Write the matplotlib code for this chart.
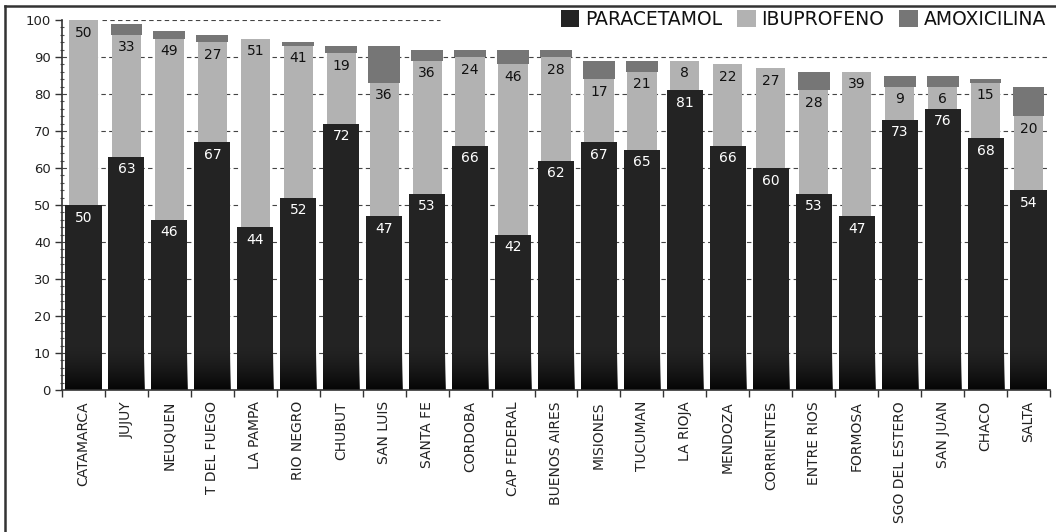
import matplotlib
matplotlib.use("Agg")
import matplotlib.pyplot as plt
import numpy as np
from matplotlib.lines import Line2D
from matplotlib.ticker import MultipleLocator, FixedLocator

provincias = ["CATAMARCA", "JUJUY", "NEUQUEN", "T DEL FUEGO", "LA PAMPA",
              "RIO NEGRO", "CHUBUT", "SAN LUIS", "SANTA FE", "CORDOBA",
              "CAP FEDERAL", "BUENOS AIRES", "MISIONES", "TUCUMAN", "LA RIOJA",
              "MENDOZA", "CORRIENTES", "ENTRE RIOS", "FORMOSA", "SGO DEL ESTERO",
              "SAN JUAN", "CHACO", "SALTA"]
paracetamol = [50, 63, 46, 67, 44, 52, 72, 47, 53, 66, 42, 62, 67, 65, 81,
               66, 60, 53, 47, 73, 76, 68, 54]
ibuprofeno = [50, 33, 49, 27, 51, 41, 19, 36, 36, 24, 46, 28, 17, 21, 8,
              22, 27, 28, 39, 9, 6, 15, 20]
amoxicilina = [0, 3, 2, 2, 0, 1, 2, 10, 3, 2, 4, 2, 5, 3, 0,
               0, 0, 5, 0, 3, 3, 1, 8]
series = ["PARACETAMOL", "IBUPROFENO", "AMOXICILINA"]
y_ticks = [0, 10, 20, 30, 40, 50, 60, 70, 80, 90, 100]

C_PARA = "#232323"
C_IBU = "#b2b2b2"
C_AMOX = "#767676"

plt.rcParams["font.family"] = ["DejaVu Sans"]

fig = plt.figure(figsize=(10.56, 5.32), dpi=100)
W, H = 1056, 532
ax = fig.add_axes([62 / W, 1 - 390 / H, (1050 - 62) / W, (390 - 20) / H])

x = np.arange(len(provincias))
p = np.array(paracetamol, dtype=float)
ib = np.array(ibuprofeno, dtype=float)
am = np.array(amoxicilina, dtype=float)

# dashed horizontal guides behind the bars
for yv in y_ticks[1:-1]:
    ax.axhline(yv, color="#444444", lw=0.8, ls=(0, (4, 3)), zorder=0)
ax.axhline(100, xmin=0.04, xmax=(440 - 62) / 988, color="#444444", lw=0.8,
           ls=(0, (4, 3)), zorder=0)

b_para = ax.bar(x, p, width=0.84, color=C_PARA, zorder=2, label=series[0])
b_ibu = ax.bar(x, ib, width=0.68, bottom=p, color=C_IBU, zorder=2, label=series[1])
b_amox = ax.bar(x, am, width=0.74, bottom=p + ib, color=C_AMOX, zorder=2,
                label=series[2])

# translucent black shading that deepens toward the base of the dark bars
ramp = np.linspace(1, 0, 128) ** 1.6
shade = np.zeros((128, 1, 4))
shade[:, 0, 3] = 0.85 * ramp
for rect in b_para:
    x0 = rect.get_x()
    im = ax.imshow(shade, extent=(x0, x0 + rect.get_width(), 0, 12),
                   origin="lower", aspect="auto", zorder=2.5,
                   interpolation="bilinear")
    im.set_clip_path(rect)

# value labels
for xi, v in zip(x, p):
    ax.annotate(f"{int(v)}", (xi, v), xytext=(0, -4), textcoords="offset points",
                ha="center", va="top", color="white", fontsize=10, zorder=4)
for xi, base, v in zip(x, p, ib):
    ax.annotate(f"{int(v)}", (xi, base + v), xytext=(0, -4),
                textcoords="offset points", ha="center", va="top",
                color="#111111", fontsize=10, zorder=4)

ax.set_xlim(-0.5, len(provincias) - 0.5)
ax.set_ylim(0, 100)

ax.set_xticks(x)
ax.set_xticklabels(provincias, rotation=90, fontsize=10, color="#222222")
ax.xaxis.set_minor_locator(FixedLocator(np.arange(-0.5, len(provincias), 1.0)))
ax.tick_params(axis="x", which="major", length=0, pad=8)
ax.tick_params(axis="x", which="minor", length=5, width=1, color="#333333")

ax.set_yticks(y_ticks)
ax.yaxis.set_minor_locator(MultipleLocator(2))
ax.tick_params(axis="y", which="major", length=5, width=1, color="#333333",
               labelsize=9.5, labelcolor="#222222", pad=3)
ax.tick_params(axis="y", which="minor", length=3, width=0.8, direction="inout",
               color="#555555")

for s in ("top", "right"):
    ax.spines[s].set_visible(False)
for s in ("left", "bottom"):
    ax.spines[s].set_color("#333333")
    ax.spines[s].set_linewidth(1.2)

leg = ax.legend(handles=[b_para, b_ibu, b_amox], labels=series, ncol=3,
                loc="upper right", bbox_to_anchor=(1048 / W, 1 - 8 / H),
                bbox_transform=fig.transFigure, frameon=False, fontsize=13.5,
                handlelength=1.0, handleheight=1.0, handletextpad=0.3,
                columnspacing=0.8, borderpad=0.1, borderaxespad=0)
for t in leg.get_texts():
    t.set_color("#111111")

# outer frame lines
fig.add_artist(Line2D([5 / W, 1.0], [1 - 6 / H, 1 - 6 / H], color="#333333",
                      lw=1.8, transform=fig.transFigure))
fig.add_artist(Line2D([5 / W, 5 / W], [0, 1 - 6 / H], color="#333333",
                      lw=1.8, transform=fig.transFigure))

fig.savefig("out.png", dpi=100, facecolor="white")
